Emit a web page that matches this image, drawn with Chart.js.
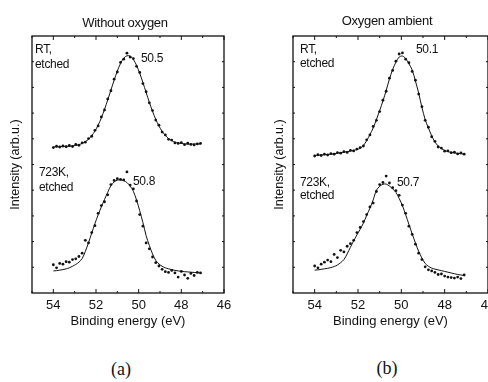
<!DOCTYPE html>
<html>
<head>
<meta charset="utf-8">
<script src="https://cdn.jsdelivr.net/npm/chart.js@4.4.0/dist/chart.umd.min.js"></script>
<style>
  html, body { margin: 0; padding: 0; background: #fff; width: 488px; height: 382px; overflow: hidden; }
  #wrap { position: relative; width: 488px; height: 382px; overflow: hidden; font-family: "Liberation Sans", Arial, sans-serif; color: #111; }
  canvas { position: absolute; top: 0; }
  .txt { position: absolute; font-size: 12px; line-height: 15px; white-space: nowrap; letter-spacing: -0.3px; }
  .head { position: absolute; font-size: 13px; white-space: nowrap; transform: translate(-50%, -50%); letter-spacing: -0.3px; }
  .tag { position: absolute; font-family: "Liberation Serif", "DejaVu Serif", serif; font-size: 18px; transform: translate(-50%, -50%); }
</style>
</head>
<body>
<div id="wrap">
  <canvas id="chartA" width="244" height="333" style="left:0"></canvas>
  <canvas id="chartB" width="262" height="333" style="left:244px"></canvas>

  <div class="head" style="left:125px; top:22px">Without oxygen</div>
  <div class="head" style="left:387px; top:20px">Oxygen ambient</div>

  <div class="txt" style="left:35px; top:42px">RT,<br>etched</div>
  <div class="txt" style="left:141px; top:51px">50.5</div>
  <div class="txt" style="left:39px; top:165px">723K,<br>etched</div>
  <div class="txt" style="left:133px; top:174px">50.8</div>

  <div class="txt" style="left:300px; top:42px; line-height:14px">RT,<br>etched</div>
  <div class="txt" style="left:416px; top:42px">50.1</div>
  <div class="txt" style="left:300px; top:176px; line-height:13px">723K,<br>etched</div>
  <div class="txt" style="left:397px; top:175px">50.7</div>

  <div class="tag" style="left:121px; top:369px">(a)</div>
  <div class="tag" style="left:387px; top:368px">(b)</div>
</div>

<script>
// binding energy grid (eV), shared by every spectrum
const energy = [54.00, 53.85, 53.70, 53.55, 53.40, 53.25, 53.10, 52.95, 52.80, 52.65,
                52.50, 52.35, 52.20, 52.05, 51.90, 51.75, 51.60, 51.45, 51.30, 51.15,
                51.00, 50.85, 50.70, 50.55, 50.40, 50.25, 50.10, 49.95, 49.80, 49.65,
                49.50, 49.35, 49.20, 49.05, 48.90, 48.75, 48.60, 48.45, 48.30, 48.15,
                48.00, 47.85, 47.70, 47.55, 47.40, 47.25, 47.10];

// (a) without oxygen - RT etched
const rtDataA = [5.66, 5.71, 5.68, 5.72, 5.69, 5.74, 5.70, 5.78, 5.75, 5.84,
                 5.87, 6.01, 6.10, 6.33, 6.50, 6.85, 7.12, 7.55, 7.87, 8.32,
                 8.60, 8.97, 9.10, 9.33, 9.18, 9.12, 8.82, 8.58, 8.15, 7.83,
                 7.40, 7.10, 6.73, 6.53, 6.26, 6.15, 5.98, 5.95, 5.84, 5.82,
                 5.85, 5.77, 5.83, 5.78, 5.76, 5.80, 5.82];
const rtFitA = [5.68, 5.69, 5.69, 5.70, 5.71, 5.71, 5.72, 5.74, 5.77, 5.82,
                5.89, 5.98, 6.12, 6.30, 6.53, 6.81, 7.15, 7.51, 7.90, 8.28,
                8.64, 8.93, 9.14, 9.23, 9.22, 9.09, 8.86, 8.55, 8.19, 7.80,
                7.42, 7.07, 6.76, 6.50, 6.29, 6.13, 6.01, 5.93, 5.87, 5.84,
                5.82, 5.80, 5.79, 5.79, 5.80, 5.80, 5.80];

// (a) without oxygen - 723K etched
const hotDataA = [1.10, 0.98, 1.15, 1.12, 1.22, 1.20, 1.30, 1.33, 1.42, 1.55,
                  2.05, 1.95, 2.35, 2.62, 3.10, 3.40, 3.55, 3.82, 4.22, 4.38,
                  4.45, 4.42, 4.40, 4.71, 4.20, 4.05, 3.58, 3.05, 2.60, 1.95,
                  1.72, 1.40, 1.18, 1.05, 0.92, 0.83, 0.80, 0.88, 0.78, 0.62,
                  0.84, 0.70, 0.57, 0.76, 0.68, 0.80, 0.78];
const hotFitA = [0.86, 0.87, 0.89, 0.91, 0.94, 0.98, 1.04, 1.11, 1.20, 1.34,
                 1.62, 1.96, 2.33, 2.70, 3.04, 3.35, 3.64, 3.92, 4.18, 4.32,
                 4.39, 4.40, 4.37, 4.30, 4.16, 3.96, 3.62, 3.20, 2.74, 2.23,
                 1.85, 1.52, 1.27, 1.13, 1.04, 0.98, 0.94, 0.91, 0.88, 0.86,
                 0.84, 0.83, 0.82, 0.81, 0.80, 0.79, 0.78];

// (b) oxygen ambient - RT etched
const rtDataB = [5.33, 5.38, 5.35, 5.40, 5.37, 5.42, 5.40, 5.46, 5.44, 5.50,
                 5.47, 5.55, 5.53, 5.60, 5.66, 5.72, 5.96, 6.15, 6.48, 6.72,
                 7.06, 7.50, 7.85, 8.36, 8.66, 9.02, 9.30, 9.34, 9.10, 8.96,
                 8.62, 8.28, 7.74, 7.25, 6.72, 6.45, 6.08, 5.90, 5.68, 5.64,
                 5.52, 5.53, 5.46, 5.48, 5.41, 5.45, 5.40];
const rtFitB = [5.35, 5.36, 5.37, 5.38, 5.39, 5.40, 5.42, 5.44, 5.46, 5.48,
                5.50, 5.52, 5.55, 5.58, 5.63, 5.74, 5.93, 6.16, 6.42, 6.75,
                7.10, 7.47, 7.88, 8.32, 8.70, 8.98, 9.18, 9.22, 9.12, 8.92,
                8.68, 8.25, 7.78, 7.22, 6.75, 6.42, 6.12, 5.88, 5.72, 5.62,
                5.55, 5.50, 5.47, 5.45, 5.43, 5.42, 5.41];

// (b) oxygen ambient - 723K etched
const hotDataB = [1.05, 0.98, 1.12, 1.20, 1.28, 1.22, 1.50, 1.38, 1.66, 1.60,
                  1.82, 1.92, 2.05, 2.35, 2.55, 2.78, 3.05, 3.35, 3.50, 3.95,
                  4.22, 4.30, 4.55, 4.28, 4.10, 3.98, 3.80, 3.42, 3.10, 2.60,
                  2.28, 1.90, 1.55, 1.30, 1.02, 0.90, 0.86, 0.80, 0.72, 0.74,
                  0.66, 0.62, 0.60, 0.58, 0.62, 0.56, 0.70];
const hotFitB = [0.89, 0.90, 0.92, 0.94, 0.96, 0.99, 1.03, 1.09, 1.18, 1.30,
                 1.52, 1.78, 2.03, 2.26, 2.48, 2.72, 3.02, 3.30, 3.62, 4.00,
                 4.15, 4.23, 4.24, 4.16, 4.05, 3.92, 3.68, 3.40, 3.05, 2.67,
                 2.30, 1.95, 1.62, 1.36, 1.15, 1.04, 0.97, 0.93, 0.90, 0.87,
                 0.84, 0.81, 0.78, 0.75, 0.72, 0.70, 0.68];

// axis ticks
const xTicks = [54, 52, 50, 48, 46];
const xMinor = [55, 53, 51, 49, 47];
const yMinor = [1, 2, 3, 4, 5, 6, 7, 8, 9];

const INK = '#111';

// frame box + small inward ticks, like the original plot
const framePlugin = {
    id: 'frame',
    afterDraw(chart) {
        const { ctx, chartArea: a, scales } = chart;
        const x = scales.x, y = scales.y;
        ctx.save();
        ctx.strokeStyle = INK;
        ctx.lineWidth = 1.3;
        ctx.strokeRect(a.left, a.top, a.right - a.left, a.bottom - a.top);
        ctx.lineWidth = 1;
        ctx.beginPath();
        xTicks.concat(xMinor).forEach(v => {
            const px = x.getPixelForValue(v);
            const len = xTicks.includes(v) ? 4 : 2;
            ctx.moveTo(px, a.bottom); ctx.lineTo(px, a.bottom - len);
            ctx.moveTo(px, a.top); ctx.lineTo(px, a.top + len);
        });
        yMinor.forEach(v => {
            const py = y.getPixelForValue(v);
            ctx.moveTo(a.left, py); ctx.lineTo(a.left + 2, py);
            ctx.moveTo(a.right, py); ctx.lineTo(a.right - 2, py);
        });
        ctx.stroke();
        ctx.restore();
    }
};

function toPoints(vals) {
    return energy.map((e, i) => ({ x: e, y: vals[i] }));
}

function dots(vals) {
    return { type: 'scatter', data: toPoints(vals), showLine: false,
             pointRadius: 1.4, pointHoverRadius: 1.4, backgroundColor: INK, borderWidth: 0 };
}

function fitLine(vals) {
    return { type: 'line', data: toPoints(vals), borderColor: INK, borderWidth: 1,
             pointRadius: 0, tension: 0.3, fill: false };
}

function makeChart(id, rtData, rtFit, hotData, hotFit, pad) {
    const ctx = document.getElementById(id).getContext('2d');
    return new Chart(ctx, {
        data: {
            datasets: [fitLine(rtFit), dots(rtData), fitLine(hotFit), dots(hotData)]
        },
        options: {
            responsive: false,
            animation: false,
            devicePixelRatio: 1,
            layout: { padding: { left: pad.left, right: pad.right, top: 36, bottom: 0 } },
            plugins: { legend: { display: false }, tooltip: { enabled: false } },
            scales: {
                x: {
                    type: 'linear', reverse: true, min: 46, max: 55,
                    grid: { display: false, drawTicks: false }, border: { display: false },
                    afterBuildTicks: s => { s.ticks = xTicks.map(v => ({ value: v })); },
                    afterFit: s => { s.height = 40; },
                    ticks: { padding: 5, color: INK, font: { family: '"Liberation Sans", Arial, sans-serif', size: 13 } },
                    title: { display: true, text: 'Binding energy (eV)', color: INK, padding: { top: 2, bottom: 4 },
                             font: { family: '"Liberation Sans", Arial, sans-serif', size: 13 } }
                },
                y: {
                    min: 0, max: 10,
                    grid: { display: false, drawTicks: false }, border: { display: false },
                    ticks: { display: false },
                    afterFit: s => { s.width = pad.yWidth; },
                    title: { display: true, text: 'Intensity (arb.u.)', color: INK, padding: { top: 4, bottom: 0 },
                             font: { family: '"Liberation Sans", Arial, sans-serif', size: 12.5 } }
                }
            }
        },
        plugins: [framePlugin]
    });
}

makeChart('chartA', rtDataA, rtFitA, hotDataA, hotFitA, { left: 4, right: 20, yWidth: 28 });
makeChart('chartB', rtDataB, rtFitB, hotDataB, hotFitB, { left: 24, right: 18, yWidth: 25 });
</script>
</body>
</html>
